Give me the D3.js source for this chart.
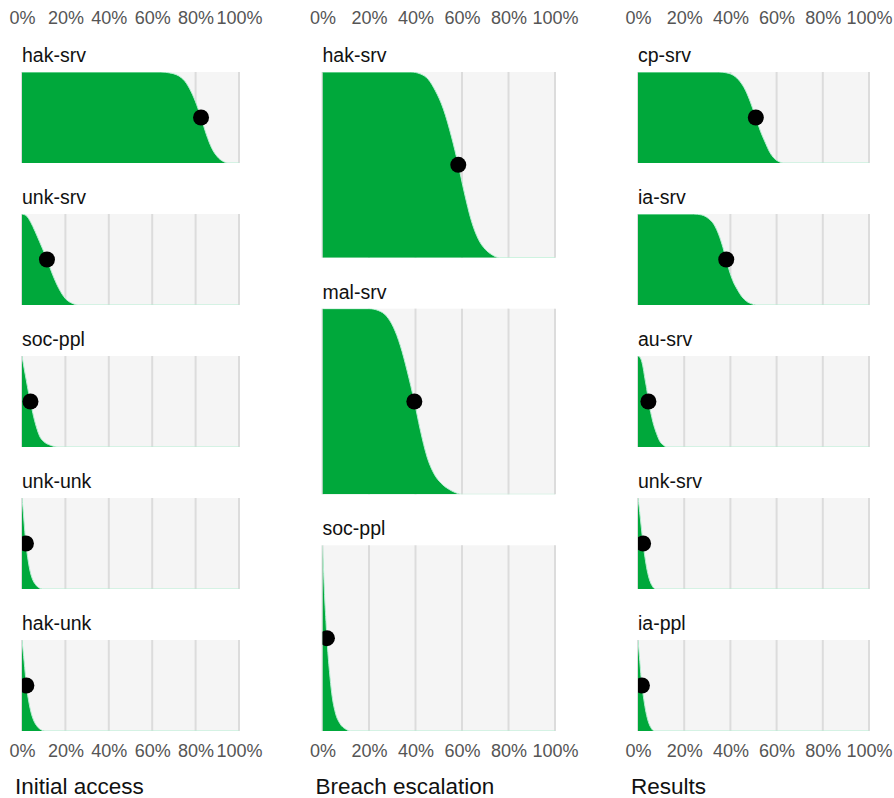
<!DOCTYPE html>
<html>
<head>
<meta charset="utf-8">
<script src="https://cdn.jsdelivr.net/npm/d3@7"></script>
<style>
  html, body { margin: 0; padding: 0; background: #fff; }
  svg { display: block; }
  text { font-family: "Liberation Sans", Arial, Helvetica, sans-serif; }
</style>
</head>
<body>
<svg id="chart" width="894" height="798"></svg>
<script>
// ---------- DATA ----------
const columnTitles = ["Initial access", "Breach escalation", "Results"];
const tickValues = [0, 20, 40, 60, 80, 100];

// Initial access
const initialLabels = ["hak-srv", "unk-srv", "soc-ppl", "unk-unk", "hak-unk"];
const initialMedians = [82.5, 11.5, 3.9, 1.8, 2.0];
const initialCurves = [
  [[0,1],[64,1],[68,0.99],[72,0.96],[75,0.9],[78,0.78],[80.5,0.64],[82.5,0.5],[85,0.31],[87.5,0.16],[90,0.07],[92.5,0.02],[95,0],[100,0]],
  [[0,1],[2,0.98],[4,0.91],[6,0.81],[8,0.7],[11.5,0.5],[14,0.34],[17,0.18],[20,0.07],[23,0.02],[26,0],[100,0]],
  [[0,1],[1,0.86],[2,0.73],[3,0.6],[3.9,0.5],[5,0.37],[6.5,0.23],[8.3,0.11],[10,0.06],[13,0.02],[17,0],[100,0]],
  [[0,1],[0.4,0.9],[0.8,0.78],[1.3,0.63],[1.8,0.5],[2.6,0.35],[3.6,0.21],[4.8,0.11],[6.2,0.05],[8,0.01],[9.5,0],[100,0]],
  [[0,1],[0.5,0.88],[1,0.76],[1.5,0.63],[2,0.5],[3,0.34],[4,0.22],[5.5,0.11],[7,0.05],[9,0.01],[10.5,0],[100,0]]
];

// Breach escalation
const breachLabels = ["hak-srv", "mal-srv", "soc-ppl"];
const breachMedians = [58.4, 39.5, 1.9];
const breachCurves = [
  [[0,1],[38,1],[42,0.99],[45.5,0.96],[48.5,0.9],[52,0.8],[55.5,0.65],[58.4,0.5],[61,0.35],[64,0.2],[67,0.1],[70,0.045],[73,0.015],[76,0],[100,0]],
  [[0,1],[20,1],[24,0.99],[27.5,0.96],[30.5,0.9],[33.5,0.8],[36.5,0.66],[39.5,0.5],[42,0.35],[45,0.2],[48,0.11],[51,0.06],[54,0.03],[57,0.01],[60,0],[100,0]],
  [[0,1],[0.5,0.85],[1,0.7],[1.5,0.59],[1.9,0.5],[3,0.32],[4,0.2],[5.5,0.1],[7.5,0.04],[10,0.01],[12,0],[100,0]]
];

// Results
const resultsLabels = ["cp-srv", "ia-srv", "au-srv", "unk-srv", "ia-ppl"];
const resultsMedians = [51, 38.2, 4.5, 2.2, 1.7];
const resultsCurves = [
  [[0,1],[35,1],[38.5,0.99],[41.5,0.96],[44,0.9],[46.5,0.8],[48.8,0.66],[51,0.5],[53,0.35],[55,0.23],[57,0.12],[59,0.05],[61,0.015],[63,0],[100,0]],
  [[0,1],[24,1],[27.5,0.99],[30.5,0.95],[33,0.88],[35,0.77],[36.8,0.63],[38.2,0.5],[39.5,0.38],[41,0.27],[43,0.17],[45,0.09],[47,0.04],[49.5,0.01],[51,0],[100,0]],
  [[0,1],[1,0.98],[2,0.9],[3,0.75],[4,0.6],[4.5,0.5],[5.5,0.38],[6.5,0.27],[8,0.15],[9.5,0.06],[11,0.02],[12.5,0],[100,0]],
  [[0,1],[0.5,0.9],[1,0.78],[1.5,0.66],[2.2,0.5],[3,0.35],[4,0.2],[5,0.1],[6,0.04],[7.5,0],[100,0]],
  [[0,1],[0.4,0.88],[0.8,0.76],[1.2,0.63],[1.7,0.5],[2.5,0.35],[3.5,0.2],[4.5,0.1],[5.5,0.04],[7,0],[100,0]]
];

// ---------- LAYOUT ----------
const svg = d3.select("#chart");
const top0 = 72, bottom0 = 731, gap = 51;
const columns = [
  {title: columnTitles[0], labels: initialLabels, medians: initialMedians, curves: initialCurves, x0: 22, x1: 239},
  {title: columnTitles[1], labels: breachLabels, medians: breachMedians, curves: breachCurves, x0: 322.5, x1: 555},
  {title: columnTitles[2], labels: resultsLabels, medians: resultsMedians, curves: resultsCurves, x0: 638, x1: 869}
];

const green = "#00a83b";
let clipId = 0;

columns.forEach(col => {
  const x = d3.scaleLinear().domain([0, 100]).range([col.x0, col.x1]);
  const n = col.labels.length;
  const h = (bottom0 - top0 - (n - 1) * gap) / n;
  const g = svg.append("g");

  // top & bottom tick labels
  const fmt = d => d + "%";
  const topAxis = d3.axisTop(x).tickValues(tickValues).tickFormat(fmt).tickSize(0).tickPadding(0);
  const botAxis = d3.axisBottom(x).tickValues(tickValues).tickFormat(fmt).tickSize(0).tickPadding(0);
  const ta = g.append("g").attr("transform", "translate(0,24)").call(topAxis);
  const ba = g.append("g").attr("transform", "translate(0,744)").call(botAxis);
  [ta, ba].forEach(a => {
    a.select(".domain").remove();
    a.selectAll("text").attr("font-size", 18).attr("fill", "#555")
      .attr("font-family", "'Liberation Sans', Arial, sans-serif");
  });
  ba.selectAll("text").attr("dy", "0.71em");

  // column title
  g.append("text").attr("x", col.x0 - 7).attr("y", 794)
    .attr("font-size", 22.5).attr("fill", "#111").text(col.title);

  col.labels.forEach((lab, i) => {
    const py = top0 + i * (h + gap);
    const y = d3.scaleLinear().domain([0, 1]).range([py + h, py]);
    const pg = g.append("g");
    const id = "clip" + (clipId++);
    pg.append("clipPath").attr("id", id).append("rect")
      .attr("x", x(0)).attr("y", y(1)).attr("width", x(100) - x(0)).attr("height", y(0) - y(1));

    pg.append("text").attr("x", x(0)).attr("y", py - 10)
      .attr("font-size", 19.5).attr("fill", "#111").text(lab);

    pg.append("rect").attr("x", x(0)).attr("y", y(1))
      .attr("width", x(100) - x(0)).attr("height", y(0) - y(1)).attr("fill", "#f5f5f5");

    pg.selectAll("line.grid").data(tickValues).enter().append("line")
      .attr("class", "grid")
      .attr("x1", d => x(d)).attr("x2", d => x(d))
      .attr("y1", y(1)).attr("y2", y(0))
      .attr("stroke", "#dcdcdc").attr("stroke-width", 2);

    const cg = pg.append("g").attr("clip-path", `url(#${id})`);
    const data = col.curves[i];
    const area = d3.area().x(d => x(d[0])).y0(y(0)).y1(d => y(d[1])).curve(d3.curveMonotoneX);
    const line = d3.line().x(d => x(d[0])).y(d => y(d[1])).curve(d3.curveMonotoneX);
    cg.append("path").datum(data).attr("d", area).attr("fill", green);
    cg.append("path").datum(data).attr("d", line).attr("fill", "none")
      .attr("stroke", "#b5efd2").attr("stroke-width", 1);

    cg.append("circle").attr("cx", x(col.medians[i])).attr("cy", y(0.5))
      .attr("r", 8).attr("fill", "#000");
  });
});
</script>
</body>
</html>
